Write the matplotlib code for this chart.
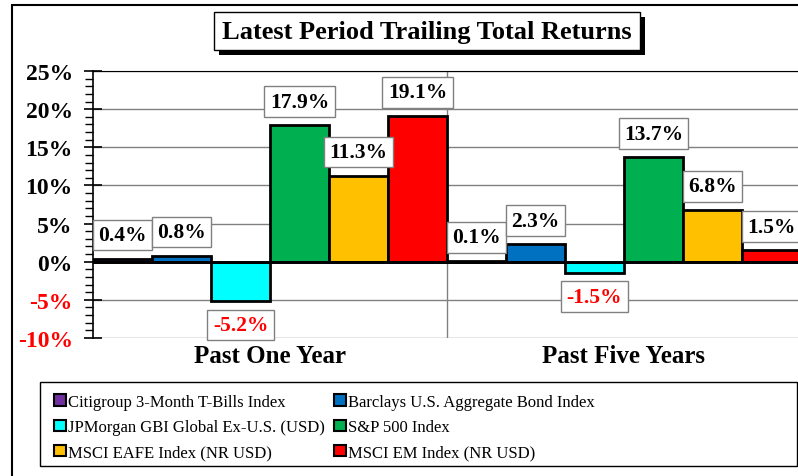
import matplotlib
matplotlib.use('Agg')
import matplotlib.pyplot as plt
from matplotlib.patches import Rectangle, Patch
from matplotlib.ticker import MultipleLocator, FuncFormatter

periods = ['Past One Year', 'Past Five Years']
indexes = ['Citigroup 3-Month T-Bills Index', 'Barclays U.S. Aggregate Bond Index',
           'JPMorgan GBI Global Ex-U.S. (USD)', 'S&P 500 Index',
           'MSCI EAFE Index (NR USD)', 'MSCI EM Index (NR USD)']
colors = ['#7030A0', '#0070C0', '#00FFFF', '#00B050', '#FFC000', '#FF0000']
one_year = [0.4, 0.8, -5.2, 17.9, 11.3, 19.1]
five_year = [0.1, 2.3, -1.5, 13.7, 6.8, 1.5]
y_ticks = [-10, -5, 0, 5, 10, 15, 20, 25]

serif = 'Liberation Serif'

fig = plt.figure(figsize=(7.98, 4.77), dpi=100)
W, H = 798, 477
ax = fig.add_axes([93 / W, (H - 339) / H, (801 - 93) / W, (339 - 72) / H])

n = len(indexes)
bw = 1.0 / n
for g, vals in enumerate([one_year, five_year]):
    for j, v in enumerate(vals):
        x = g + (j + 0.5) * bw
        ax.bar(x, v, width=bw, color=colors[j], edgecolor='black', linewidth=2, zorder=3)
        off = 17 if v >= 0 else -17
        ax.annotate(f'{v:.1f}%', (x, v), xytext=(0, off), textcoords='offset points',
                    ha='center', va='center', fontsize=15.5, fontweight='bold',
                    family=serif, color='black' if v >= 0 else 'red', zorder=5,
                    bbox=dict(boxstyle='square,pad=0.25', fc='white', ec='#808080', lw=1))

ax.set_xlim(0, 2)
ax.set_ylim(-10, 25)
ax.set_yticks(y_ticks)
ax.yaxis.set_minor_locator(MultipleLocator(1))
ax.yaxis.set_major_formatter(FuncFormatter(lambda v, p: f'{v:.0f}%'))
ax.tick_params(axis='y', which='major', direction='inout', length=13, width=1.2, pad=8)
ax.tick_params(axis='y', which='minor', direction='out', length=6, width=1)
for lbl in ax.get_yticklabels():
    lbl.set_fontfamily(serif)
    lbl.set_fontweight('bold')
    lbl.set_fontsize(17)
    lbl.set_color('red' if '-' in lbl.get_text() else 'black')

ax.set_xticks([0.5, 1.5])
ax.set_xticklabels(periods, fontsize=18, fontweight='bold', family=serif)
ax.tick_params(axis='x', length=0, pad=4)

for y in y_ticks:
    ax.axhline(y, color='#808080', lw=1, zorder=1)
ax.axvline(1, color='#808080', lw=1, zorder=1)
ax.axhline(0, color='black', lw=2, zorder=4)
for s in ['right', 'bottom']:
    ax.spines[s].set_visible(False)
ax.spines['top'].set_color('black')
ax.spines['left'].set_linewidth(1.2)

# outer chart frame
fig.patches.append(Rectangle((12 / W, -0.1), 1.2, 1 - 6 / H + 0.1, transform=fig.transFigure,
                             fill=False, ec='black', lw=1.5))

# title box, then a drop shadow behind it sized from the drawn box
title = fig.text(427 / W, 1 - 32 / H, 'Latest Period Trailing Total Returns',
                 ha='center', va='center', fontsize=19, fontweight='bold', family=serif,
                 zorder=2, bbox=dict(boxstyle='square,pad=0.3', fc='white', ec='black', lw=1))
fig.canvas.draw()
bb = title.get_bbox_patch().get_window_extent()
fig.patches.append(Rectangle((bb.x0 + 5, bb.y0 - 5), bb.width, bb.height, transform=None,
                             fc='black', ec='none', zorder=1))

# legend: frame drawn by hand, two columns placed separately
fig.patches.append(Rectangle((40 / W, 1 - 467 / H), (797 - 40) / W, 84 / H,
                             transform=fig.transFigure, fill=False, ec='black', lw=1))
handles = [Patch(facecolor=c, edgecolor='black', linewidth=1.5) for c in colors]
for col, x0 in enumerate([44, 324]):
    idx = [col, col + 2, col + 4]
    fig.legend([handles[i] for i in idx], [indexes[i] for i in idx], ncol=1,
               loc='upper left', bbox_to_anchor=(x0 / W, 1 - 385 / H), frameon=False,
               prop={'family': serif, 'size': 12}, handlelength=0.7, handleheight=0.7,
               handletextpad=0.15, labelspacing=0.55, borderpad=0.1)

fig.savefig('out.png', dpi=100)
